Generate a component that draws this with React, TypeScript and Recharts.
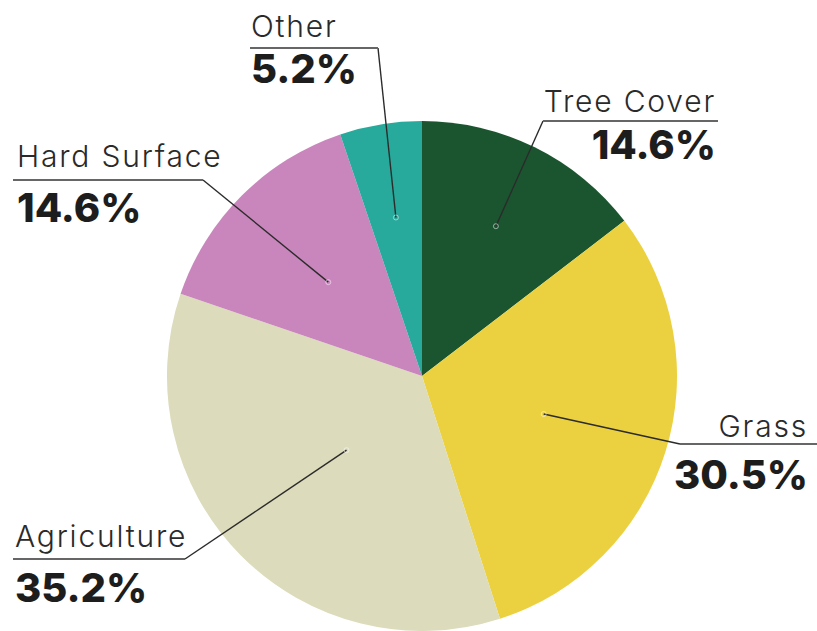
import { PieChart, Pie, Cell } from "recharts";

const categories = ["Tree Cover", "Grass", "Agriculture", "Hard Surface", "Other"];
const shares = [14.6, 30.5, 35.2, 14.6, 5.2];
const colors = ["#1b5530", "#ebd13f", "#dcdbbb", "#c986bd", "#27a99b"];

const pieData = categories.map((name, i) => ({ name, value: shares[i] }));

// where each callout sits: anchor radius (fraction of R), underline and text placement
const callouts: { [key: string]: any } = {
  "Tree Cover": { r: 0.655, lineY: 121, inner: 543, outer: 718, textX: 716, align: "end", labelY: 112, pctY: 159 },
  Grass: { r: 0.5, lineY: 444, inner: 680, outer: 817, textX: 808, align: "end", labelY: 437, pctY: 489 },
  Agriculture: { r: 0.415, lineY: 559, inner: 185, outer: 13, textX: 15, align: "start", labelY: 547, pctY: 602 },
  "Hard Surface": { r: 0.52, lineY: 180, inner: 203, outer: 13, textX: 17, align: "start", labelY: 167, pctY: 222 },
  Other: { r: 0.63, lineY: 48, inner: 378, outer: 250, textX: 251, align: "start", labelY: 37, pctY: 83 },
};

const RAD = Math.PI / 180;

function Callout(props: any) {
  const { cx, cy, midAngle, outerRadius, name, value } = props;
  const c = callouts[name];
  if (!c) return null;
  const ax = cx + outerRadius * c.r * Math.cos(-midAngle * RAD);
  const ay = cy + outerRadius * c.r * Math.sin(-midAngle * RAD);
  return (
    <g>
      <path d={`M${ax},${ay} L${c.inner},${c.lineY}`} stroke="#2b2b2b" strokeWidth={1.4} fill="none" />
      <path d={`M${c.inner},${c.lineY} L${c.outer},${c.lineY}`} stroke="#666" strokeWidth={2} fill="none" />
      <circle cx={ax} cy={ay} r={2.5} fill="none" stroke="rgba(255,255,255,0.5)" />
      <text
        x={c.textX}
        y={c.labelY}
        textAnchor={c.align}
        fontFamily="Inter, Lato, sans-serif"
        fontWeight={300}
        fontSize={30}
        letterSpacing={1.8}
        fill="#2a2a2a"
      >
        {name}
      </text>
      <text
        x={c.textX}
        y={c.pctY}
        textAnchor={c.align}
        fontFamily="Inter, Lato, sans-serif"
        fontWeight={800}
        fontSize={40}
        fill="#1d1d1d"
      >
        {value.toFixed(1)}%
      </text>
    </g>
  );
}

export default function App() {
  return (
    <div style={{ position: "absolute", left: 0, top: 0, width: 817, height: 631, background: "#fff" }}>
      <PieChart width={817} height={631} margin={{ top: 0, right: 0, bottom: 0, left: 0 }}>
        <Pie
          data={pieData}
          dataKey="value"
          nameKey="name"
          cx={422}
          cy={376}
          outerRadius={255}
          startAngle={90}
          endAngle={-270}
          stroke="none"
          label={Callout}
          labelLine={false}
          isAnimationActive={false}
        >
          {pieData.map((d, i) => (
            <Cell key={d.name} fill={colors[i]} />
          ))}
        </Pie>
      </PieChart>
    </div>
  );
}
